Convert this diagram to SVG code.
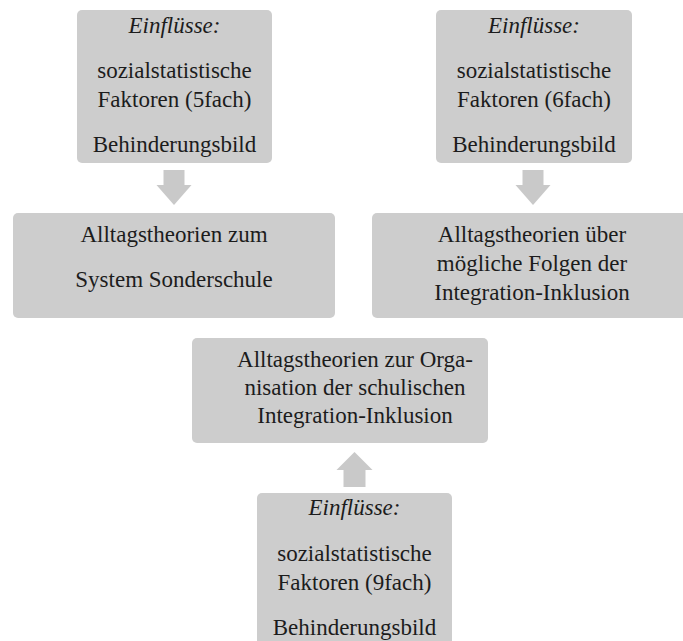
<svg xmlns="http://www.w3.org/2000/svg" width="683" height="641" viewBox="0 0 683 641">
  <style>
    .box { fill: #cdcdcd; }
    .arrow { fill: #c9c9c9; }
    text { font-family: "Liberation Serif", "Times New Roman", serif; font-size: 23px; fill: #1c1c1c; text-anchor: middle; }
    .it { font-style: italic; }
  </style>
  <rect width="683" height="641" fill="#ffffff"/>

  <!-- Influences on the special-school theories -->
  <g id="einfluesse-5fach">
    <rect class="box" x="77" y="10" width="195" height="153" rx="5"/>
    <text class="it" x="174.5" y="33">Einflüsse:</text>
    <text x="174.5" y="78">sozialstatistische</text>
    <text x="174.5" y="107">Faktoren (5fach)</text>
    <text x="174.5" y="152">Behinderungsbild</text>
  </g>

  <!-- Influences on the consequences theories -->
  <g id="einfluesse-6fach">
    <rect class="box" x="436" y="10" width="196" height="153" rx="5"/>
    <text class="it" x="534" y="33">Einflüsse:</text>
    <text x="534" y="78">sozialstatistische</text>
    <text x="534" y="107">Faktoren (6fach)</text>
    <text x="534" y="152">Behinderungsbild</text>
  </g>

  <g id="sonderschule">
    <rect class="box" x="13" y="213" width="322" height="105" rx="5"/>
    <text x="174" y="242">Alltagstheorien zum</text>
    <text x="174" y="287">System Sonderschule</text>
  </g>

  <g id="folgen">
    <rect class="box" x="372" y="213" width="325" height="105" rx="5"/>
    <text x="532" y="242">Alltagstheorien über</text>
    <text x="532" y="271">mögliche Folgen der</text>
    <text x="532" y="300">Integration-Inklusion</text>
  </g>

  <g id="organisation">
    <rect class="box" x="192" y="338" width="296" height="105" rx="5"/>
    <text x="355" y="367">Alltagstheorien zur Orga-</text>
    <text x="355" y="395">nisation der schulischen</text>
    <text x="355" y="423">Integration-Inklusion</text>
  </g>

  <!-- Influences on the organisation theories -->
  <g id="einfluesse-9fach">
    <rect class="box" x="257" y="493" width="195" height="160" rx="5"/>
    <text class="it" x="354.5" y="515">Einflüsse:</text>
    <text x="354.5" y="561">sozialstatistische</text>
    <text x="354.5" y="590">Faktoren (9fach)</text>
    <text x="354.5" y="635">Behinderungsbild</text>
  </g>

  <!-- Block arrows -->
  <g id="connectors">
    <polygon class="arrow" points="163.5,170 184.5,170 184.5,185 191.5,185 174,205 156.5,185 163.5,185"/>
    <polygon class="arrow" points="522.5,170 543.5,170 543.5,185 550.5,185 533,205 515.5,185 522.5,185"/>
    <polygon class="arrow" points="343.5,487 365.5,487 365.5,470 372.5,470 354.5,452 336.5,470 343.5,470"/>
  </g>
</svg>
